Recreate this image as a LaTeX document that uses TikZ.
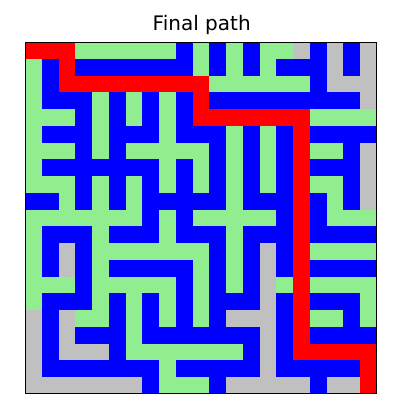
\documentclass[tikz,border=0pt]{standalone}
\usepackage{fontspec}
\setmainfont{DejaVu Sans}
\definecolor{cR}{RGB}{255,0,0}
\definecolor{cB}{RGB}{0,0,255}
\definecolor{cG}{RGB}{144,238,144}
\definecolor{cS}{RGB}{192,192,192}
\begin{document}
\begin{tikzpicture}[x=1pt,y=-1pt]
\useasboundingbox[fill=white] (0,0) rectangle (410,420);
\def\s{16.75}
\foreach \row [count=\r from 0] in {%
{R,R,R,G,G,G,G,G,G,B,G,B,G,B,G,G,S,B,S,B,S},%
{G,B,R,B,B,B,B,B,B,B,G,B,G,B,G,B,B,B,S,B,S},%
{G,B,R,R,R,R,R,R,R,R,R,G,G,G,G,G,G,B,S,S,S},%
{G,B,B,B,G,B,G,B,G,B,R,B,B,B,B,B,B,B,B,B,S},%
{G,G,G,B,G,B,G,B,G,B,R,R,R,R,R,R,R,G,G,G,G},%
{G,B,B,B,G,B,B,B,G,B,B,B,G,B,G,B,R,B,B,B,B},%
{G,G,G,B,G,B,G,G,G,G,G,B,G,B,G,B,R,G,G,B,S},%
{G,B,B,B,B,B,B,B,G,B,G,B,G,B,G,B,R,B,B,B,S},%
{G,G,G,B,G,B,G,B,G,B,G,B,G,B,G,B,R,G,G,B,S},%
{B,B,G,B,G,B,G,B,B,B,B,B,G,B,B,B,R,B,G,B,S},%
{G,G,G,G,G,G,G,B,G,B,G,G,G,G,G,B,R,B,G,G,G},%
{G,B,B,B,G,B,B,B,G,B,B,B,G,B,B,B,R,B,B,B,B},%
{G,B,S,B,G,G,G,G,G,G,G,B,G,B,S,B,R,G,G,G,G},%
{G,B,S,B,G,B,B,B,B,B,G,B,G,B,S,B,R,B,B,B,B},%
{G,G,G,B,G,G,G,G,G,B,G,B,G,B,S,G,R,G,G,G,G},%
{G,B,B,B,G,B,G,B,G,B,G,B,B,B,S,B,R,B,B,B,G},%
{S,B,S,G,G,B,G,B,G,B,G,B,S,S,S,B,R,G,G,B,G},%
{S,B,S,B,B,B,G,B,B,B,B,B,B,B,S,B,R,B,B,B,B},%
{S,B,S,S,S,B,G,G,G,G,G,G,G,B,S,B,R,R,R,R,R},%
{S,B,B,B,B,B,B,B,G,B,B,B,B,B,S,B,B,B,B,B,R},%
{S,S,S,S,S,S,S,B,G,G,G,B,S,S,S,S,S,B,S,S,R}%
}{%
  \foreach \c [count=\col from 0] in \row {%
    \fill[c\c] ({25+\col*\s},{42+\r*\s}) rectangle +(\s+0.3,\s+0.3);%
  }%
}
\draw[black,line width=0.8pt] (25,42) rectangle ({25+21*\s},{42+21*\s});
\node[font=\fontsize{20}{24}\selectfont,anchor=base,inner sep=0pt] (title) at (201.7,30.7) {Final path};
\end{tikzpicture}
\end{document}
